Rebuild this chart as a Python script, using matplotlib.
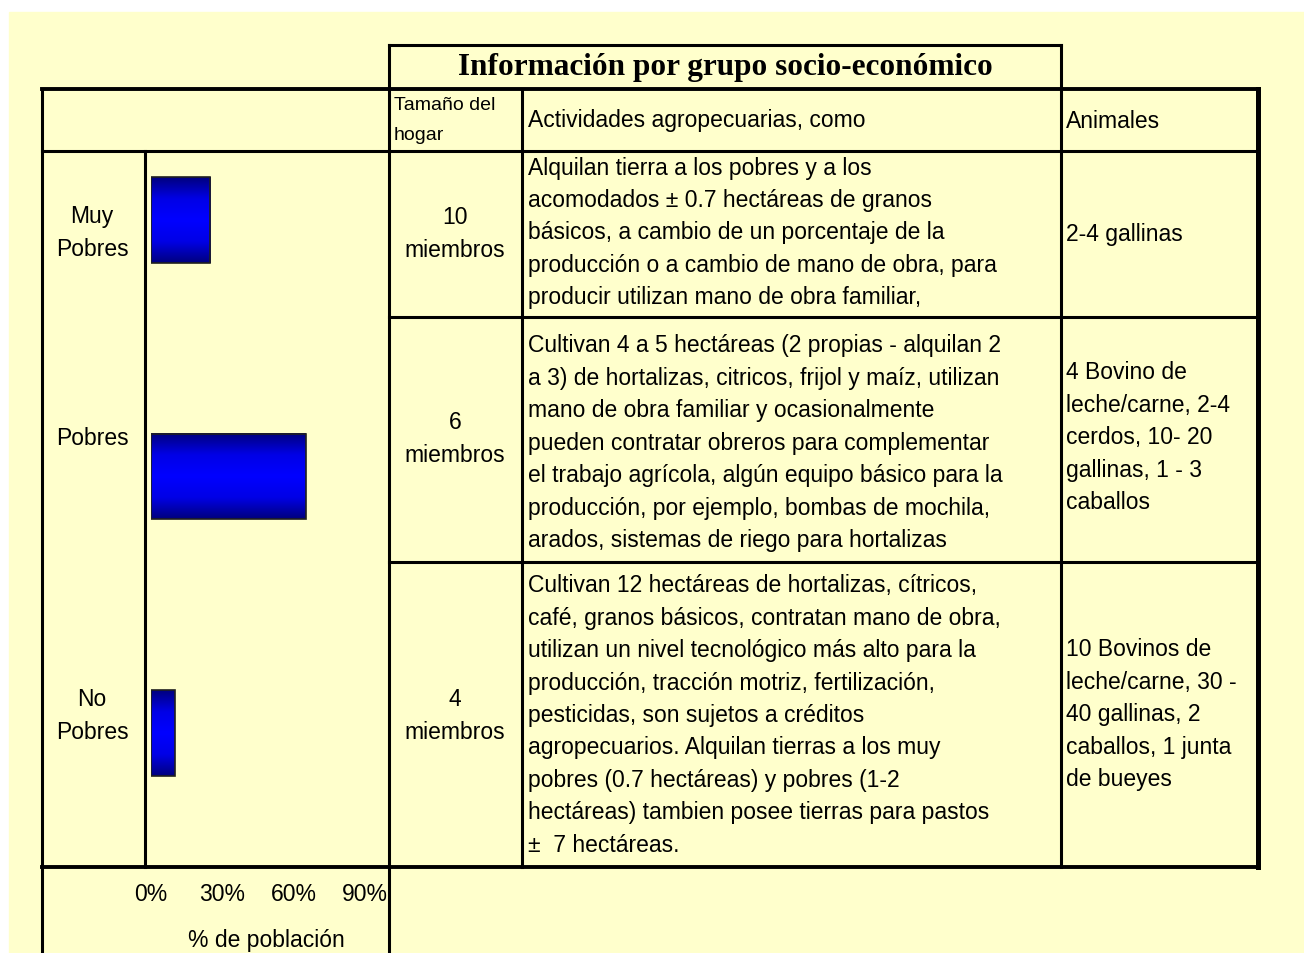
import matplotlib.pyplot as plt
import numpy as np

# data
grupos = ["Muy\nPobres", "Pobres", "No\nPobres"]
poblacion = [25, 65, 10]  # % de población
hogar = ["10\nmiembros", "6\nmiembros", "4\nmiembros"]
actividades = [
    ["Alquilan tierra a los pobres y a los",
     "acomodados \u00b1 0.7 hectáreas de granos",
     "básicos, a cambio de un porcentaje de la",
     "producción o a cambio de mano de obra, para",
     "producir utilizan mano de obra familiar,"],
    ["Cultivan 4 a 5 hectáreas (2 propias - alquilan 2",
     "a 3) de hortalizas, citricos, frijol y maíz, utilizan",
     "mano de obra familiar y ocasionalmente",
     "pueden contratar obreros para complementar",
     "el trabajo agrícola, algún equipo básico para la",
     "producción, por ejemplo, bombas de mochila,",
     "arados, sistemas de riego para hortalizas"],
    ["Cultivan 12 hectáreas de hortalizas, cítricos,",
     "café, granos básicos, contratan mano de obra,",
     "utilizan un nivel tecnológico más alto para la",
     "producción, tracción motriz, fertilización,",
     "pesticidas, son sujetos a créditos",
     "agropecuarios. Alquilan tierras a los muy",
     "pobres (0.7 hectáreas) y pobres (1-2",
     "hectáreas) tambien posee tierras para pastos",
     "\u00b1  7 hectáreas."],
]
animales = [
    ["2-4 gallinas"],
    ["4 Bovino de", "leche/carne, 2-4", "cerdos, 10- 20",
     "gallinas, 1 - 3", "caballos"],
    ["10 Bovinos de", "leche/carne, 30 -", "40 gallinas, 2",
     "caballos, 1 junta", "de bueyes"],
]
xticks = [0, 30, 60, 90]
xticklabels = ["0%", "30%", "60%", "90%"]

W, H = 1304, 954
BG = "#FFFFCC"
FONT = "Liberation Sans"
FS = 16.5

fig = plt.figure(figsize=(W / 100, H / 100), dpi=100)
fig.patch.set_facecolor("white")

# full-figure axes in pixel coordinates for the table
tab = fig.add_axes([0, 0, 1, 1])
tab.set_xlim(0, W)
tab.set_ylim(H, 0)
tab.axis("off")
tab.add_patch(plt.Rectangle((9, 13), W - 9, H - 13, color=BG, zorder=0))

lw = 2.2
def hline(y, x0, x1, w=lw):
    tab.plot([x0, x1], [y, y], color="black", lw=w, solid_capstyle="projecting")

def vline(x, y0, y1, w=lw):
    tab.plot([x, x], [y0, y1], color="black", lw=w, solid_capstyle="projecting")

hline(46, 389, 1061)
hline(90, 42, 1258, 2.8)
hline(152, 42, 1258)
hline(318, 389, 1258)
hline(563, 389, 1258)
hline(868, 42, 1258, 2.8)
vline(42, 90, H + 5)
vline(145, 152, 868)
vline(389, 46, H + 5)
vline(522, 90, 868)
vline(1061, 46, 868)
vline(1258, 90, 868, 3.6)

# title and headers
tab.text(725, 68, "Información por grupo socio-económico", family="Liberation Serif",
         fontweight="bold", fontsize=22.5, ha="center", va="center")
tab.text(394, 106, "Tamaño del", family=FONT, fontsize=14, va="center")
tab.text(394, 136, "hogar", family=FONT, fontsize=14, va="center")
tab.text(528, 121, "Actividades agropecuarias, como", family=FONT, fontsize=FS, va="center")
tab.text(1066, 121, "Animales", family=FONT, fontsize=FS, va="center")

step = 32.4
lab_y = [217, 439, 700]
hog_y = [218, 423, 700]
act_y = [168, 346, 586]
ani_y = [234, 373, 650]
for i in range(3):
    for k, s in enumerate(grupos[i].split("\n")):
        tab.text(92, lab_y[i] + k * step, s, family=FONT, fontsize=FS,
                 ha="center", va="center")
    for k, s in enumerate(hogar[i].split("\n")):
        tab.text(455, hog_y[i] + k * step, s, family=FONT, fontsize=FS,
                 ha="center", va="center")
    for k, s in enumerate(actividades[i]):
        tab.text(528, act_y[i] + k * step, s, family=FONT, fontsize=FS, va="center")
    for k, s in enumerate(animales[i]):
        tab.text(1066, ani_y[i] + k * step, s, family=FONT, fontsize=FS, va="center")

# bar chart
x0, x1 = 151, 365
ytop, ybot = 93, 862
ax = fig.add_axes([x0 / W, 1 - ybot / H, (x1 - x0) / W, (ybot - ytop) / H])
ax.set_facecolor("none")
for s in ax.spines.values():
    s.set_visible(False)
ax.set_yticks([])
ax.set_xticks(xticks)
ax.set_xticklabels(xticklabels, family=FONT, fontsize=FS)
ax.tick_params(axis="x", length=0, pad=15)
ax.set_xlabel("% de población", family=FONT, fontsize=FS, va="center")
ax.xaxis.set_label_coords(0.54, (ybot - 941) / (ybot - ytop))

bars = ax.barh(range(3), poblacion, height=0.335, facecolor="none",
               edgecolor="#202020", linewidth=1.2, zorder=3)
grad = np.abs(np.linspace(-1, 1, 64))[:, None]
cmap = plt.matplotlib.colors.LinearSegmentedColormap.from_list(
    "g", ["#0000FF", "#0000E6", "#000080"])
for b in bars:
    bx, by = b.get_x(), b.get_y()
    bw, bh = b.get_width(), b.get_height()
    ax.imshow(grad, cmap=cmap, aspect="auto", extent=[bx, bx + bw, by + bh, by],
              zorder=2, interpolation="bicubic")
ax.set_xlim(0, 90)
ax.set_ylim(2.5, -0.5)

fig.savefig("out.png", dpi=100, facecolor="white")
